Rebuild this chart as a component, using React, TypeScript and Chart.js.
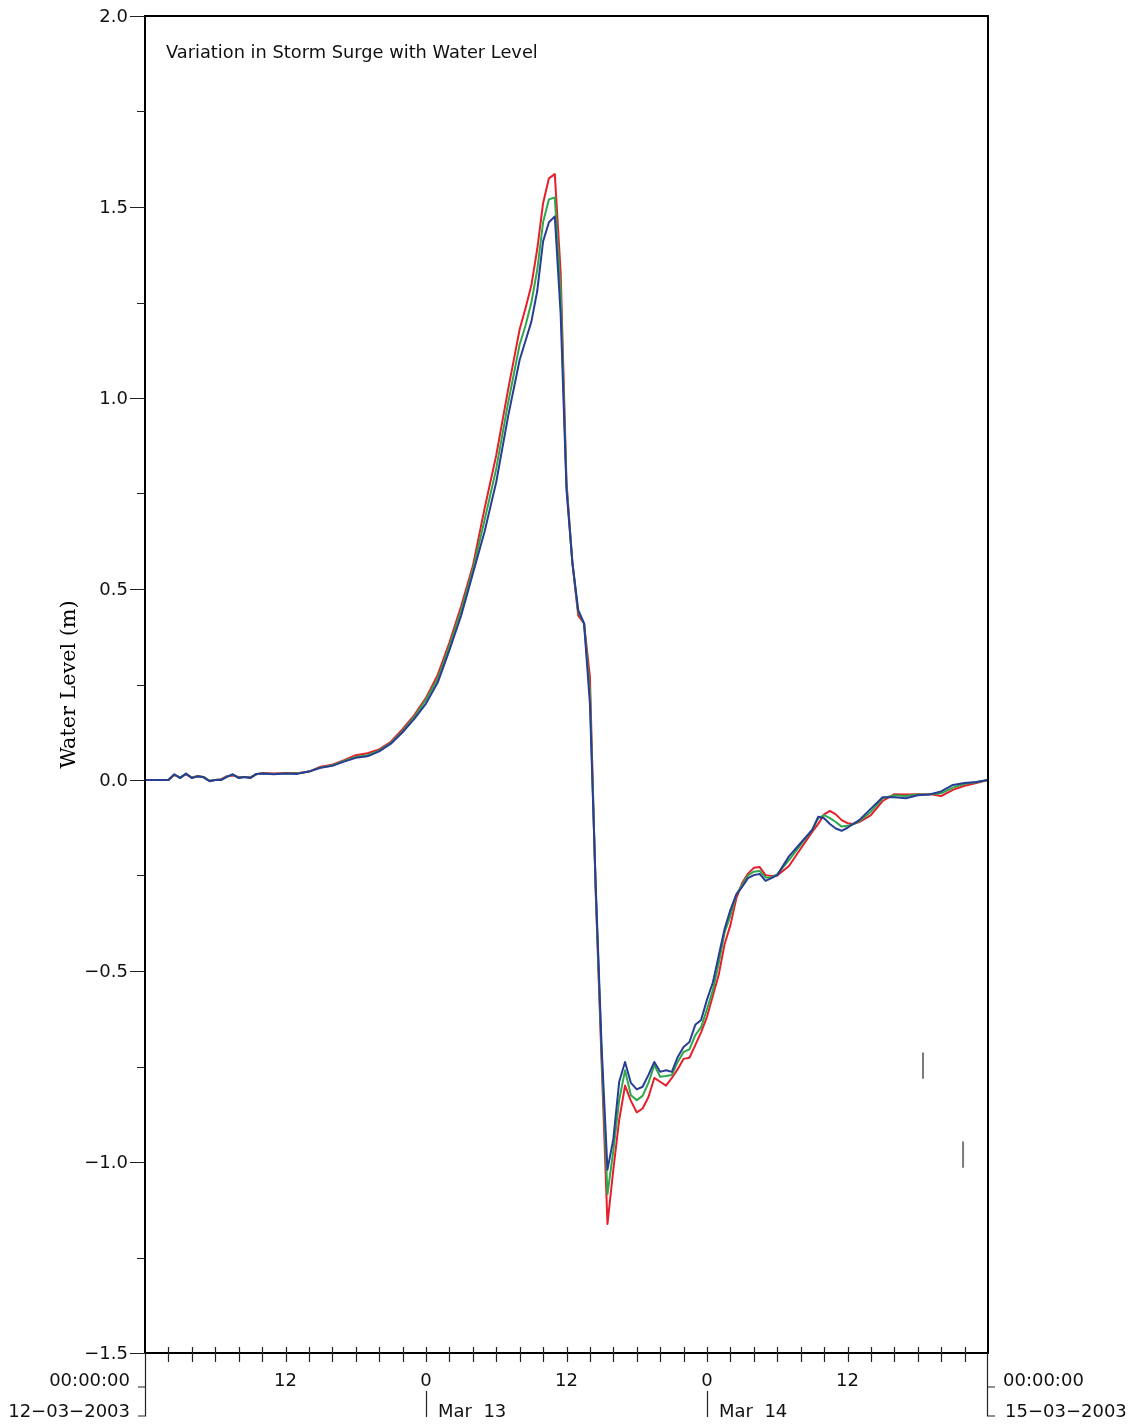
import React, { useEffect, useRef } from "react";
import { Chart, registerables } from "chart.js";

Chart.register(...registerables);

// Time (hours since 12-03-2003 00:00)
const hours = [
  0, 1, 2, 2.5, 3, 3.5, 4, 4.5, 5, 5.5, 6, 6.5, 7, 7.5, 8, 8.5, 9, 9.5, 10, 11,
  12, 13, 14, 15, 16, 17, 18, 19, 20, 21, 22, 23, 24, 25, 26, 27, 28, 29, 30, 31,
  32, 32.5, 33, 33.5, 34, 34.5, 35, 35.5, 36, 36.5, 37, 37.5, 38, 38.5, 39, 39.5, 40, 40.5, 41, 41.5,
  42, 42.5, 43, 43.5, 44, 44.5, 45, 45.5, 46, 46.5, 47, 47.5, 48, 48.5, 49, 49.5, 50, 50.5, 51, 51.5,
  52, 52.5, 53, 53.5, 54, 55, 56, 57, 57.5, 58, 58.5, 59, 59.5, 60, 60.5, 61, 62, 63, 64, 65,
  66, 67, 68, 69, 70, 71, 72,
];

const redSeries = [
  0, 0, 0, 0.013, 0.007, 0.015, 0.007, 0.01, 0.008, -0.002, 0.0, 0.002, 0.01, 0.012, 0.008, 0.008, 0.007, 0.015, 0.018, 0.017,
  0.018, 0.018, 0.022, 0.035, 0.04, 0.052, 0.065, 0.07, 0.08, 0.1, 0.133, 0.17, 0.215, 0.275, 0.36, 0.455, 0.56, 0.71, 0.85, 1.02,
  1.18, 1.235, 1.295, 1.39, 1.51, 1.575, 1.586, 1.33, 0.78, 0.57, 0.43, 0.41, 0.27, -0.3, -0.74, -1.162, -1.02, -0.89, -0.8, -0.84,
  -0.87, -0.86, -0.83, -0.78, -0.79, -0.8, -0.78, -0.757, -0.73, -0.727, -0.694, -0.66, -0.62, -0.565, -0.51, -0.43, -0.38, -0.31, -0.27, -0.245,
  -0.23, -0.228, -0.249, -0.251, -0.25, -0.225, -0.18, -0.135, -0.115, -0.09, -0.081, -0.09, -0.105, -0.113, -0.115, -0.11, -0.092, -0.055, -0.037, -0.038,
  -0.037, -0.037, -0.042, -0.026, -0.015, -0.008, 0,
];

const greenSeries = [
  0, 0, 0, 0.014, 0.006, 0.016, 0.006, 0.01, 0.008, -0.002, 0.0, 0.001, 0.009, 0.014, 0.006, 0.008, 0.006, 0.015, 0.017, 0.016,
  0.017, 0.017, 0.022, 0.033, 0.038, 0.05, 0.06, 0.065, 0.077, 0.097, 0.128, 0.165, 0.21, 0.265, 0.35, 0.443, 0.55, 0.68, 0.815, 0.985,
  1.14, 1.19, 1.25, 1.335, 1.46, 1.52, 1.525, 1.28, 0.77, 0.57, 0.44, 0.41, 0.23, -0.29, -0.72, -1.084, -0.97, -0.838, -0.76, -0.825,
  -0.838, -0.827, -0.793, -0.746, -0.777, -0.775, -0.772, -0.738, -0.712, -0.705, -0.668, -0.647, -0.6, -0.55, -0.48, -0.4, -0.355, -0.3, -0.275, -0.25,
  -0.24, -0.238, -0.255, -0.255, -0.247, -0.21, -0.17, -0.13, -0.1, -0.092, -0.1, -0.11, -0.122, -0.12, -0.115, -0.108, -0.083, -0.048, -0.04, -0.042,
  -0.038, -0.037, -0.035, -0.02, -0.01, -0.006, 0,
];

const blueSeries = [
  0, 0, 0, 0.015, 0.005, 0.017, 0.005, 0.01, 0.007, -0.003, 0.0, 0.0, 0.008, 0.015, 0.005, 0.008, 0.005, 0.016, 0.017, 0.015,
  0.017, 0.016, 0.022, 0.032, 0.037, 0.048, 0.058, 0.062, 0.075, 0.095, 0.125, 0.16, 0.2, 0.255, 0.34, 0.43, 0.54, 0.65, 0.78, 0.95,
  1.1, 1.15, 1.2, 1.28, 1.41, 1.46, 1.475, 1.22, 0.76, 0.57, 0.445, 0.41, 0.2, -0.28, -0.7, -1.02, -0.94, -0.79, -0.738, -0.793,
  -0.81, -0.803, -0.772, -0.738, -0.764, -0.76, -0.764, -0.725, -0.699, -0.686, -0.641, -0.628, -0.575, -0.53, -0.46, -0.39, -0.34, -0.3, -0.28, -0.257,
  -0.249, -0.246, -0.264, -0.257, -0.249, -0.2, -0.165, -0.13, -0.096, -0.1, -0.115, -0.127, -0.133, -0.125, -0.115, -0.105, -0.075, -0.045, -0.045, -0.048,
  -0.04, -0.038, -0.03, -0.013, -0.008, -0.005, 0,
];

// Small grey legend stubs (hour, from, to)
const stubHours = [66.45, 69.87];
const stubFrom = [-0.715, -0.948];
const stubTo = [-0.78, -1.013];

// Axis labels
const yLabelValues = [2.0, 1.5, 1.0, 0.5, 0.0, -0.5, -1.0, -1.5];
const yLabelTexts = ["2.0", "1.5", "1.0", "0.5", "0.0", "\u22120.5", "\u22121.0", "\u22121.5"];
const yMinorValues = [1.75, 1.25, 0.75, 0.25, -0.25, -0.75, -1.25];
const xTickHours = [2, 4, 6, 8, 10, 12, 14, 16, 18, 20, 22, 24, 26, 28, 30, 32, 34, 36, 38, 40, 42, 44, 46, 48, 50, 52, 54, 56, 58, 60, 62, 64, 66, 68, 70];
const xLabelHours = [12, 24, 36, 48, 60];
const xLabelTexts = ["12", "0", "12", "0", "12"];
const dayHours = [24, 48];
const dayTexts = ["Mar  13", "Mar  14"];
const startTexts = ["00:00:00", "12\u221203\u22122003"];
const endTexts = ["00:00:00", "15\u221203\u22122003"];
const titleText = "Variation in Storm Surge with Water Level";
const yTitleText = "Water Level (m)";

const SANS = '"DejaVu Sans", "Liberation Sans", sans-serif';
const SERIF = '"DejaVu Serif", "Liberation Serif", serif';

function fitFont(ctx: CanvasRenderingContext2D, text: string, weight: string, family: string, target: number) {
  ctx.font = `${weight} 20px ${family}`;
  const w = ctx.measureText(text).width;
  const size = (20 * target) / w;
  return `${weight} ${size.toFixed(2)}px ${family}`;
}

const decorPlugin = {
  id: "decor",
  afterDraw(chart: any) {
    const ctx: CanvasRenderingContext2D = chart.ctx;
    const { left, right, top, bottom } = chart.chartArea;
    const xs = chart.scales.x;
    const ys = chart.scales.y;
    ctx.save();
    // frame
    ctx.strokeStyle = "#000";
    ctx.lineWidth = 2;
    ctx.strokeRect(left, top, right - left, bottom - top);

    ctx.strokeStyle = "#222";
    ctx.lineWidth = 1.2;
    ctx.beginPath();
    // y ticks
    yLabelValues.forEach((v) => {
      const py = Math.round(ys.getPixelForValue(v)) + 0.5;
      ctx.moveTo(left - 15, py);
      ctx.lineTo(left, py);
    });
    yMinorValues.forEach((v) => {
      const py = Math.round(ys.getPixelForValue(v)) + 0.5;
      ctx.moveTo(left - 8, py);
      ctx.lineTo(left, py);
    });
    // x ticks
    xTickHours.forEach((h) => {
      const px = Math.round(xs.getPixelForValue(h)) + 0.5;
      ctx.moveTo(px, bottom - 6);
      ctx.lineTo(px, bottom + 9);
    });
    // day separators
    dayHours.forEach((h) => {
      const px = Math.round(xs.getPixelForValue(h)) + 0.5;
      ctx.moveTo(px, bottom + 38);
      ctx.lineTo(px, bottom + 64);
    });
    // left bracket
    ctx.moveTo(left + 0.5, bottom);
    ctx.lineTo(left + 0.5, bottom + 63);
    ctx.lineTo(left - 7, bottom + 63);
    ctx.moveTo(left - 7, bottom + 34);
    ctx.lineTo(left, bottom + 34);
    // right bracket
    ctx.moveTo(right - 0.5, bottom);
    ctx.lineTo(right - 0.5, bottom + 63);
    ctx.lineTo(right + 7, bottom + 63);
    ctx.moveTo(right, bottom + 34);
    ctx.lineTo(right + 7, bottom + 34);
    ctx.stroke();

    // texts
    ctx.fillStyle = "#111";
    ctx.font = `18px ${SANS}`;
    ctx.textBaseline = "middle";
    ctx.textAlign = "right";
    yLabelValues.forEach((v, i) => {
      ctx.fillText(yLabelTexts[i], left - 17, ys.getPixelForValue(v) + 1);
    });
    ctx.textAlign = "center";
    xLabelHours.forEach((h, i) => {
      ctx.fillText(xLabelTexts[i], xs.getPixelForValue(h), bottom + 28);
    });
    ctx.textAlign = "left";
    dayHours.forEach((h, i) => {
      ctx.fillText(dayTexts[i], xs.getPixelForValue(h) + 12, bottom + 59);
    });
    ctx.textAlign = "right";
    ctx.fillText(startTexts[0], left - 15, bottom + 28);
    ctx.fillText(startTexts[1], left - 15, bottom + 59);
    ctx.textAlign = "left";
    ctx.fillText(endTexts[0], right + 15, bottom + 28);
    ctx.fillText(endTexts[1], right + 17, bottom + 59);

    // title
    ctx.font = fitFont(ctx, titleText, "normal", SANS, 372);
    ctx.textAlign = "left";
    ctx.fillText(titleText, left + 21, top + 37);

    // y title
    ctx.font = fitFont(ctx, yTitleText, "normal", SERIF, 168);
    ctx.translate(70, (top + bottom) / 2);
    ctx.rotate(-Math.PI / 2);
    ctx.textAlign = "center";
    ctx.fillStyle = "#000";
    ctx.fillText(yTitleText, 0, 0);
    ctx.restore();
  },
};

function toPoints(vals: number[]) {
  return vals.map((v, i) => ({ x: hours[i], y: v }));
}

export default function App() {
  const ref = useRef<HTMLCanvasElement | null>(null);
  useEffect(() => {
    if (!ref.current) return;
    const stubSets = stubHours.map((h, i) => ({
      label: `stub${i}`,
      data: [
        { x: h, y: stubFrom[i] },
        { x: h, y: stubTo[i] },
      ],
      borderColor: "#7a7a7a",
      borderWidth: 2,
      pointRadius: 0,
      order: 0,
    }));
    const chart = new Chart(ref.current, {
      type: "line",
      data: {
        datasets: [
          { label: "blue", data: toPoints(blueSeries), borderColor: "#2a3d94", borderWidth: 2, pointRadius: 0, tension: 0, order: 1 },
          { label: "green", data: toPoints(greenSeries), borderColor: "#2ea84b", borderWidth: 2, pointRadius: 0, tension: 0, order: 2 },
          { label: "red", data: toPoints(redSeries), borderColor: "#e61f2b", borderWidth: 2, pointRadius: 0, tension: 0, order: 3 },
          ...stubSets,
        ],
      },
      options: {
        responsive: false,
        maintainAspectRatio: false,
        devicePixelRatio: 1,
        animation: false,
        layout: { padding: { left: 0, top: 16, right: 148, bottom: 0 } },
        plugins: { legend: { display: false }, tooltip: { enabled: false }, title: { display: false } },
        elements: { line: { borderCapStyle: "round", borderJoinStyle: "round" } },
        scales: {
          x: {
            type: "linear",
            min: 0,
            max: 72,
            ticks: { display: false },
            grid: { display: false, drawTicks: false },
            border: { display: false },
            afterFit: (s: any) => {
              s.height = 74;
            },
          },
          y: {
            type: "linear",
            min: -1.5,
            max: 2,
            ticks: { display: false },
            grid: { display: false, drawTicks: false },
            border: { display: false },
            afterFit: (s: any) => {
              s.width = 145;
            },
          },
        },
      } as any,
      plugins: [decorPlugin],
    });
    return () => chart.destroy();
  }, []);
  return (
    <div style={{ position: "absolute", left: 0, top: 0, width: 1136, height: 1427, background: "#fff" }}>
      <canvas ref={ref} width={1136} height={1427} style={{ display: "block" }} />
    </div>
  );
}
